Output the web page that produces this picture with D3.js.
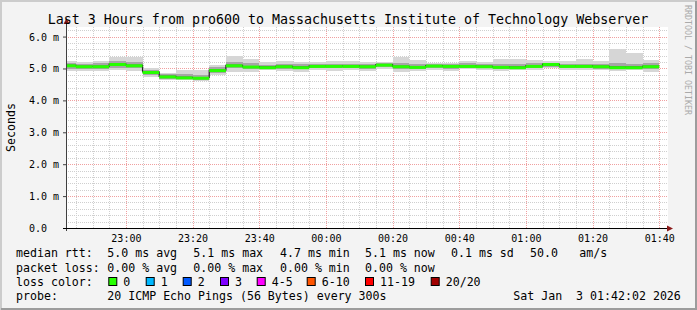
<!DOCTYPE html>
<html>
<head>
<meta charset="utf-8">
<script src="https://cdn.jsdelivr.net/npm/d3@7/dist/d3.min.js"></script>
<style>
  body { margin: 0; background: #f3f3f3; }
  svg text { font-family: "DejaVu Sans Mono", monospace; white-space: pre; }
</style>
</head>
<body>
<div id="chart"></div>
<script>
// median rtt per 5 minute step (ms), first step starts 22:40
var median = [5.10, 5.07, 5.07, 5.14, 5.10, 4.89, 4.75, 4.72, 4.71, 4.95, 5.10, 5.06,
              5.04, 5.07, 5.04, 5.08, 5.08, 5.08, 5.07, 5.12, 5.07, 5.05, 5.09, 5.08,
              5.08, 5.07, 5.05, 5.04, 5.08, 5.14, 5.08, 5.08, 5.07, 5.04, 5.04, 5.07];
// smoke: slowest / fastest ping of each step
var smokeMax = [5.22, 5.19, 5.22, 5.36, 5.36, 5.00, 4.86, 4.94, 4.96, 5.12, 5.38, 5.31,
                5.19, 5.22, 5.21, 5.19, 5.24, 5.22, 5.21, 5.19, 5.35, 5.28, 5.17, 5.17,
                5.24, 5.21, 5.31, 5.30, 5.27, 5.22, 5.22, 5.31, 5.22, 5.62, 5.47, 5.28];
var smokeMin = [4.91, 4.91, 4.91, 4.96, 4.91, 4.73, 4.63, 4.63, 4.60, 4.78, 4.88, 4.88,
                4.94, 4.91, 4.90, 4.96, 4.91, 4.94, 4.91, 4.99, 4.88, 4.91, 4.96, 4.91,
                4.99, 4.96, 4.91, 4.94, 4.96, 5.02, 4.96, 4.96, 4.94, 4.91, 4.94, 4.88];
// inner (denser) part of the smoke
var innerHi = [5.17, 5.15, 5.16, 5.22, 5.20, 4.95, 4.82, 4.82, 4.80, 5.04, 5.21, 5.17,
               5.12, 5.14, 5.13, 5.14, 5.15, 5.15, 5.14, 5.16, 5.17, 5.15, 5.13, 5.13,
               5.16, 5.14, 5.15, 5.14, 5.17, 5.18, 5.14, 5.15, 5.13, 5.16, 5.15, 5.16];
var innerLo = [4.99, 4.98, 4.99, 5.03, 5.00, 4.80, 4.68, 4.66, 4.65, 4.86, 5.01, 4.98,
               4.98, 4.99, 4.98, 5.01, 5.00, 5.01, 4.99, 5.04, 4.98, 4.97, 5.02, 4.99,
               5.03, 5.00, 4.97, 4.98, 5.01, 5.06, 5.01, 5.00, 4.99, 4.97, 4.98, 4.97];

var yTicks = [0, 1, 2, 3, 4, 5, 6];
var yTickLabels = ['0.0\u00a0\u00a0', '1.0 m', '2.0 m', '3.0 m', '4.0 m', '5.0 m', '6.0 m'];

var lossLabels = ['0', '1', '2', '3', '4-5', '6-10', '11-19', '20/20'];
var lossColors = ['#26ff00', '#00b8ff', '#0059ff', '#7e00ff', '#ff00ff', '#ff5500', '#ff0000', '#a10000'];

var W = 697, H = 310;
var pL = 66, pR = 666, pT = 27, pB = 228;

var t0 = new Date(2026, 0, 2, 22, 42, 2);
var t1 = new Date(2026, 0, 3, 1, 42, 2);
var stepStart = d3.timeMinute.every(5).range(new Date(2026, 0, 2, 22, 40), new Date(2026, 0, 3, 1, 40));

var x = d3.scaleTime().domain([t0, t1]).range([pL, pR]);
var y = d3.scaleLinear().domain([0, 6.3]).range([pB, pT]);

var svg = d3.select('#chart').append('svg')
    .attr('width', W).attr('height', H);

// frame
svg.append('rect').attr('width', W).attr('height', H).attr('fill', '#f3f3f3');
svg.append('path').attr('d', 'M1,' + H + 'V1H' + W).attr('fill', 'none').attr('stroke', '#cccccc').attr('stroke-width', 2);
svg.append('path').attr('d', 'M1,' + (H - 1) + 'H' + (W - 1) + 'V1').attr('fill', 'none').attr('stroke', '#9c9c9c').attr('stroke-width', 2);

// plot canvas
svg.append('rect').attr('x', pL).attr('y', pT).attr('width', pR - pL + 2).attr('height', pB - pT)
    .attr('fill', '#ffffff');

svg.append('clipPath').attr('id', 'clip').append('rect')
    .attr('x', pL).attr('y', pT).attr('width', pR - pL + 2).attr('height', pB - pT);

// grid
var grid = svg.append('g');
var minorY = d3.range(0, 6.3, 0.2).filter(function(v) { return Math.abs(v - Math.round(v)) > 0.01; });
grid.selectAll('.hmin').data(minorY).enter().append('line')
    .attr('x1', pL).attr('x2', pR + 2)
    .attr('y1', function(d) { return Math.round(y(d)) + 0.5; })
    .attr('y2', function(d) { return Math.round(y(d)) + 0.5; })
    .attr('stroke', '#cfcfcf').attr('stroke-dasharray', '1,1');
var minorX = x.ticks(d3.timeMinute.every(5)).filter(function(d) { return d.getMinutes() % 20 !== 0; });
grid.selectAll('.vmin').data(minorX).enter().append('line')
    .attr('y1', pT).attr('y2', pB)
    .attr('x1', function(d) { return Math.round(x(d)) + 0.5; })
    .attr('x2', function(d) { return Math.round(x(d)) + 0.5; })
    .attr('stroke', '#cfcfcf').attr('stroke-dasharray', '1,1');
grid.selectAll('.hmaj').data(yTicks.slice(1)).enter().append('line')
    .attr('x1', pL).attr('x2', pR + 2)
    .attr('y1', function(d) { return Math.round(y(d)) + 0.5; })
    .attr('y2', function(d) { return Math.round(y(d)) + 0.5; })
    .attr('stroke', '#f0a0a0').attr('stroke-dasharray', '1,1');
var majorX = x.ticks(d3.timeMinute.every(20));
grid.selectAll('.vmaj').data(majorX).enter().append('line')
    .attr('y1', pT).attr('y2', pB)
    .attr('x1', function(d) { return Math.round(x(d)) + 0.5; })
    .attr('x2', function(d) { return Math.round(x(d)) + 0.5; })
    .attr('stroke', '#f0a0a0').attr('stroke-dasharray', '1,1');

// smoke
var plot = svg.append('g').attr('clip-path', 'url(#clip)');
function band(lo, hi, color) {
    plot.append('g').selectAll('rect').data(stepStart).enter().append('rect')
        .attr('x', function(d) { return x(d); })
        .attr('width', function(d) { return x(d3.timeMinute.offset(d, 5)) - x(d); })
        .attr('y', function(d, i) { return y(hi[i]); })
        .attr('height', function(d, i) { return y(lo[i]) - y(hi[i]); })
        .attr('fill', color).attr('shape-rendering', 'crispEdges');
}
band(smokeMin, smokeMax, '#d6d6d6');
band(innerLo, innerHi, '#a6a6a6');

// median line
var pts = stepStart.map(function(d, i) { return [d, median[i]]; });
pts.push([d3.timeMinute.offset(stepStart[stepStart.length - 1], 5), median[median.length - 1]]);
var line = d3.line()
    .x(function(d) { return x(d[0]); })
    .y(function(d) { return y(d[1]); })
    .curve(d3.curveStepAfter);
plot.append('path').datum(pts).attr('d', line)
    .attr('fill', 'none').attr('stroke', '#202020').attr('stroke-width', 1.2);
plot.append('g').selectAll('rect').data(stepStart).enter().append('rect')
    .attr('x', function(d) { return x(d); })
    .attr('width', function(d) { return x(d3.timeMinute.offset(d, 5)) - x(d); })
    .attr('y', function(d, i) { return y(median[i]) - 1; })
    .attr('height', 3)
    .attr('fill', lossColors[0]);

// axes
var xAxis = d3.axisBottom(x).ticks(d3.timeMinute.every(20)).tickFormat(d3.timeFormat('%H:%M')).tickSize(0).tickPadding(7);
svg.append('g').attr('transform', 'translate(0,' + pB + ')').call(xAxis)
    .call(function(g) { g.select('.domain').remove(); })
    .selectAll('text').attr('font-size', '10px').attr('fill', '#000');

var yAxis = d3.axisLeft(y).tickValues(yTicks).tickFormat(function(d, i) { return yTickLabels[i]; }).tickSize(3).tickPadding(4);
svg.append('g').attr('transform', 'translate(' + pL + ',0)').call(yAxis)
    .call(function(g) {
        g.select('.domain').remove();
        g.selectAll('line').attr('stroke', '#404040');
        g.selectAll('text').attr('font-size', '10px').attr('fill', '#000').attr('dy', '0.35em');
    });

svg.append('line').attr('x1', pL + 0.5).attr('x2', pL + 0.5).attr('y1', pT - 4).attr('y2', pB + 3)
    .attr('stroke', '#404040');
svg.append('line').attr('x1', pL - 3).attr('x2', pR + 2).attr('y1', pB + 0.5).attr('y2', pB + 0.5)
    .attr('stroke', '#000000');
svg.append('path').attr('d', 'M' + (pL - 2.5) + ',' + (pT - 3) + 'L' + (pL + 0.5) + ',' + (pT - 9) + 'L' + (pL + 3.5) + ',' + (pT - 3) + 'Z')
    .attr('fill', '#8b1a1a');
svg.append('path').attr('d', 'M' + (pR + 1) + ',' + (pB - 2.5) + 'L' + (pR + 7) + ',' + (pB + 0.5) + 'L' + (pR + 1) + ',' + (pB + 3.5) + 'Z')
    .attr('fill', '#8b1a1a');

// titles
svg.append('text').attr('x', 348).attr('y', 24).attr('text-anchor', 'middle')
    .attr('font-size', '13.3px').attr('fill', '#000')
    .text('Last 3 Hours from pro600 to Massachusetts Institute of Technology Webserver');
svg.append('text').attr('transform', 'translate(14.5,' + ((pT + pB) / 2) + ') rotate(-90)')
    .attr('text-anchor', 'middle').attr('font-size', '11.6px').text('Seconds');
svg.append('text').attr('transform', 'translate(685,5) rotate(90)')
    .attr('font-size', '8.3px').attr('fill', '#aaaaaa').text('RRDTOOL / TOBI OETIKER');

// legend
var fs = '11.6px';
var rows = [
    [[16, 'median rtt:'], [107.3, '5.0 ms avg'], [193.3, '5.1 ms max'], [280, '4.7 ms min'],
     [365, '5.1 ms now'], [451, '0.1 ms sd'], [530, '50.0'], [579.3, 'am/s']],
    [[16, 'packet loss:'], [107.3, '0.00 % avg'], [193.3, '0.00 % max'], [280, '0.00 % min'], [365, '0.00 % now']],
    [[16, 'loss color:']],
    [[16, 'probe:'], [107.3, '20 ICMP Echo Pings (56 Bytes) every 300s'], [513.3, 'Sat Jan  3 01:42:02 2026']]
];
var rowY = [257, 271.5, 286, 300];
rows.forEach(function(r, j) {
    r.forEach(function(item) {
        svg.append('text').attr('x', item[0]).attr('y', rowY[j]).attr('font-size', fs).text(item[1]);
    });
});
var boxX = [108.3, 145.7, 182.7, 220, 256.7, 306.7, 365, 430.7];
lossLabels.forEach(function(l, i) {
    svg.append('rect').attr('x', boxX[i] + 0.5).attr('y', 277.5).attr('width', 8).attr('height', 8)
        .attr('fill', lossColors[i]).attr('stroke', '#000');
    svg.append('text').attr('x', boxX[i] + 15).attr('y', rowY[2]).attr('font-size', fs).text(l);
});
</script>
</body>
</html>
